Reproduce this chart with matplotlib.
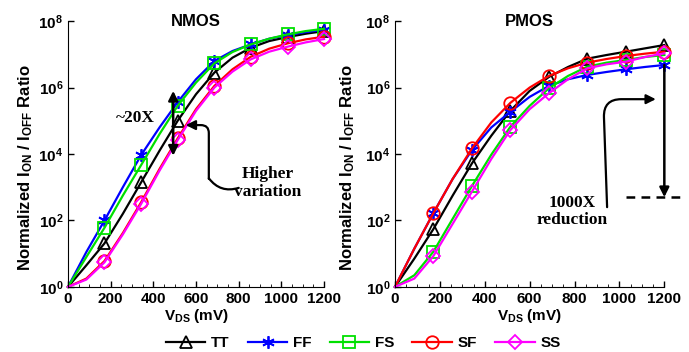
import numpy as np
import matplotlib
matplotlib.use('Agg')
import matplotlib.pyplot as plt
from matplotlib.lines import Line2D
from matplotlib.ticker import MultipleLocator, NullLocator, FixedLocator

plt.rcParams['font.family'] = 'Liberation Sans'
plt.rcParams['font.weight'] = 'bold'
plt.rcParams['mathtext.fontset'] = 'custom'
plt.rcParams['mathtext.rm'] = 'Liberation Sans:bold'
plt.rcParams['mathtext.bf'] = 'Liberation Sans:bold'
plt.rcParams['mathtext.default'] = 'bf'

# drain-source voltage (mV)
vds = [0, 86, 171, 257, 343, 429, 514, 600, 686, 771, 857, 943, 1029, 1114, 1200]

# log10 of normalized Ion/Ioff, NMOS corners
nmos_tt = [0, 0.65, 1.31, 2.20, 3.15, 4.10, 5.00, 5.80, 6.45, 6.90, 7.20, 7.40, 7.52, 7.62, 7.70]
nmos_ff = [0, 1.05, 2.00, 3.00, 3.97, 4.80, 5.56, 6.25, 6.80, 7.10, 7.30, 7.47, 7.58, 7.67, 7.74]
nmos_fs = [0, 0.90, 1.78, 2.75, 3.67, 4.60, 5.45, 6.15, 6.73, 7.07, 7.30, 7.47, 7.60, 7.70, 7.77]
nmos_sf = [0, 0.25, 0.78, 1.62, 2.55, 3.55, 4.47, 5.35, 6.05, 6.55, 6.93, 7.17, 7.33, 7.45, 7.53]
nmos_ss = [0, 0.22, 0.74, 1.58, 2.50, 3.50, 4.42, 5.30, 6.00, 6.48, 6.85, 7.08, 7.23, 7.36, 7.46]

# log10 of normalized Ion/Ioff, PMOS corners
pmos_tt = [0, 0.85, 1.74, 2.75, 3.72, 4.55, 5.30, 5.90, 6.32, 6.62, 6.87, 6.98, 7.08, 7.18, 7.28]
pmos_ff = [0, 1.15, 2.22, 3.25, 4.12, 4.80, 5.27, 5.72, 6.05, 6.25, 6.38, 6.47, 6.55, 6.62, 6.68]
pmos_fs = [0, 0.35, 1.06, 2.05, 3.04, 3.98, 4.82, 5.45, 5.98, 6.35, 6.63, 6.75, 6.83, 6.92, 6.98]
pmos_sf = [0, 1.15, 2.22, 3.25, 4.17, 4.95, 5.54, 6.00, 6.35, 6.58, 6.75, 6.86, 6.95, 7.02, 7.08]
pmos_ss = [0, 0.25, 0.93, 1.90, 2.87, 3.85, 4.72, 5.35, 5.83, 6.25, 6.58, 6.70, 6.78, 6.92, 7.03]

corners = ['TT', 'FF', 'FS', 'SF', 'SS']
colors = ['black', 'blue', '#00e000', 'red', 'magenta']
markers = ['^', (6, 2, 0), 's', 'o', 'D']
msizes = [9, 9, 8, 9, 7]

fig = plt.figure(figsize=(6.89, 3.52), dpi=100)
ax1 = fig.add_axes([0.0987, 0.185, 0.3716, 0.755])
ax2 = fig.add_axes([0.5733, 0.185, 0.3909, 0.755])

def draw(ax, series, title, ylab_x):
    for vals, c, m, ms in zip(series, colors, markers, msizes):
        ax.plot(vds, np.power(10.0, vals), color=c, lw=1.6, marker=m, ms=ms,
                mfc='none', mec=c, mew=1.3, markevery=list(range(2, len(vds), 2)),
                clip_on=False)
    ax.set_yscale('log')
    ax.set_xlim(0, 1200)
    ax.set_ylim(1, 1e8)
    ax.spines['top'].set_visible(False)
    ax.spines['right'].set_visible(False)
    ax.xaxis.set_major_locator(MultipleLocator(200))
    ax.xaxis.set_minor_locator(MultipleLocator(50))
    ax.yaxis.set_major_locator(FixedLocator([1e0, 1e2, 1e4, 1e6, 1e8]))
    ax.yaxis.set_minor_locator(NullLocator())
    ax.tick_params(direction='in', labelsize=11, length=4, width=1)
    ax.tick_params(which='minor', direction='in', length=2)
    for lab in ax.get_xticklabels():
        lab.set_fontweight('bold')
    ax.set_xlabel('V$_{DS}$ (mV)', fontsize=11, fontweight='bold', labelpad=1)
    ax.set_ylabel('Normalized I$_{ON}$ / I$_{OFF}$ Ratio', fontsize=12,
                  fontweight='bold')
    ax.yaxis.set_label_coords(ylab_x, 0.45)
    ax.text(0.5, 1.0, title, transform=ax.transAxes, ha='center',
            va='center', fontsize=12, fontweight='bold')

draw(ax1, [nmos_tt, nmos_ff, nmos_fs, nmos_sf, nmos_ss], 'NMOS', -0.13)
draw(ax2, [pmos_tt, pmos_ff, pmos_fs, pmos_sf, pmos_ss], 'PMOS', -0.14)

serif = dict(family='Liberation Serif', fontweight='bold', fontsize=12.5)

# NMOS: spread between corners at ~500 mV
ax1.annotate('', xy=(493, 10**5.9), xytext=(493, 10**5.0),
             arrowprops=dict(arrowstyle='-|>', color='black', lw=1.8, mutation_scale=14,
                             shrinkA=0, shrinkB=0))
ax1.annotate('', xy=(493, 10**3.95), xytext=(493, 10**5.0),
             arrowprops=dict(arrowstyle='-|>', color='black', lw=1.8, mutation_scale=14,
                             shrinkA=0, shrinkB=0))
ax1.text(314, 10**5.07, '~20X', ha='center', va='center', **serif)
ax1.annotate('', xy=(552, 10**4.87), xytext=(660, 10**3.25),
             arrowprops=dict(arrowstyle='-|>', color='black', lw=1.6, mutation_scale=14,
                             connectionstyle='angle,angleA=90,angleB=0,rad=8',
                             shrinkA=0, shrinkB=0))
ax1.annotate('', xy=(660, 10**3.27), xytext=(800, 10**2.98),
             arrowprops=dict(arrowstyle='-', color='black', lw=1.6,
                             connectionstyle='arc3,rad=-0.35', shrinkA=0, shrinkB=0))
ax1.text(935, 10**3.12, 'Higher\nvariation', ha='center', va='center',
         linespacing=1.15, **serif)

# PMOS: drop from FF corner to the required level
ax2.annotate('', xy=(1200, 10**2.7), xytext=(1200, 10**pmos_ff[-1]),
             arrowprops=dict(arrowstyle='-|>', color='black', lw=1.8, mutation_scale=14,
                             shrinkA=0, shrinkB=0))
ax2.plot([1029, 1275], [10**2.7, 10**2.7], color='black', lw=1.8,
         ls=(0, (3.5, 2.5)), clip_on=False)
ax2.annotate('', xy=(1162, 10**5.65), xytext=(945, 10**2.4),
             arrowprops=dict(arrowstyle='-|>', color='black', lw=1.6, mutation_scale=14,
                             connectionstyle='angle,angleA=92,angleB=0,rad=18',
                             shrinkA=0, shrinkB=0))
ax2.text(790, 10**2.27, '1000X\nreduction', ha='center', va='center',
         linespacing=1.15, **serif)

handles = [Line2D([], [], color=c, lw=1.6, marker=m, ms=ms, mfc='none', mec=c, mew=1.3)
           for c, m, ms in zip(colors, markers, msizes)]
fig.legend(handles, corners, loc='center', bbox_to_anchor=(0.527, 0.026), ncol=5,
           frameon=False, prop=dict(size=11, weight='bold'), handlelength=2.6,
           handletextpad=0.35, columnspacing=1.2, numpoints=1, borderpad=0)

fig.savefig('out.png', dpi=100)
